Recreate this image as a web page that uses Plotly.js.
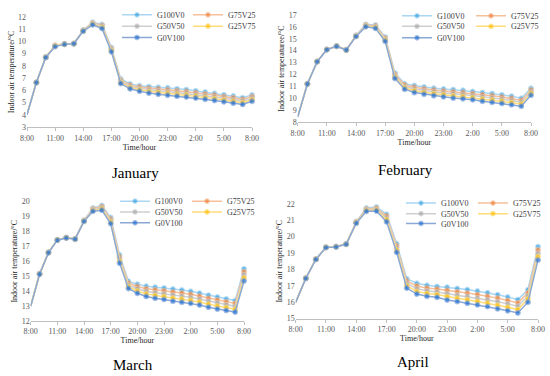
<!DOCTYPE html>
<html>
<head>
<meta charset="utf-8">
<script src="https://cdn.plot.ly/plotly-3.0.1.min.js"></script>
<style>html,body{margin:0;padding:0;background:#fff;}#chart{width:550px;height:376px;}</style>
</head>
<body>
<div id="chart"></div>
<script>
// Hours after 8:00 (0 = 8:00 day 1, 24 = 8:00 next day)
const hours = [0,1,2,3,4,5,6,7,8,9,10,11,12,13,14,15,16,17,18,19,20,21,22,23,24];
const tickPositions = [0,3,6,9,12,15,18,21,24];
const tickLabels = ['8:00','11:00','14:00','17:00','20:00','23:00','2:00','5:00','8:00'];
const seriesNames = ['G100V0','G75V25','G50V50','G25V75','G0V100'];
const monthNames = ['January','February','March','April'];

// January
const janG100V0 = [4.05,6.65,8.72,9.62,9.80,9.83,10.92,11.55,11.38,9.50,6.92,6.52,6.38,6.30,6.25,6.20,6.12,6.06,5.96,5.86,5.75,5.64,5.53,5.40,5.62];
const janG75V25 = [4.04,6.64,8.71,9.68,9.79,9.82,10.90,11.50,11.30,9.41,6.83,6.42,6.27,6.17,6.11,6.05,5.97,5.91,5.81,5.71,5.61,5.50,5.39,5.26,5.49];
const janG50V50 = [4.03,6.64,8.70,9.66,9.78,9.82,10.88,11.45,11.22,9.33,6.74,6.32,6.16,6.04,5.97,5.90,5.82,5.76,5.67,5.57,5.46,5.35,5.24,5.13,5.36];
const janG25V75 = [4.01,6.63,8.69,9.62,9.76,9.81,10.85,11.40,11.13,9.24,6.64,6.22,6.04,5.90,5.82,5.75,5.67,5.61,5.52,5.42,5.32,5.21,5.10,4.99,5.23];
const janG0V100 = [4.00,6.63,8.68,9.57,9.75,9.80,10.83,11.35,11.05,9.15,6.55,6.12,5.93,5.77,5.68,5.60,5.52,5.46,5.37,5.27,5.17,5.06,4.95,4.85,5.10];

// February
const febG100V0 = [8.45,11.22,13.09,14.10,14.38,14.07,15.28,16.20,16.15,15.14,12.13,11.22,11.08,10.95,10.85,10.78,10.73,10.67,10.57,10.48,10.40,10.29,10.18,10.00,10.84];
const febG75V25 = [8.45,11.21,13.09,14.10,14.38,14.07,15.26,16.15,16.08,15.05,12.01,11.11,10.93,10.80,10.69,10.62,10.55,10.49,10.40,10.30,10.22,10.11,10.00,9.83,10.70];
const febG50V50 = [8.44,11.21,13.08,14.09,14.37,14.06,15.24,16.11,16.01,14.96,11.90,10.99,10.78,10.65,10.54,10.45,10.38,10.32,10.23,10.12,10.03,9.93,9.82,9.67,10.55];
const febG25V75 = [8.44,11.20,13.08,14.09,14.37,14.06,15.21,16.06,15.94,14.87,11.78,10.88,10.63,10.49,10.38,10.29,10.20,10.14,10.05,9.93,9.85,9.75,9.64,9.50,10.41];
const febG0V100 = [8.43,11.20,13.07,14.08,14.36,14.05,15.19,16.01,15.87,14.78,11.66,10.76,10.48,10.34,10.22,10.12,10.02,9.96,9.88,9.75,9.66,9.57,9.46,9.33,10.26];

// March
const marG100V0 = [13.02,15.17,16.60,17.44,17.59,17.51,18.75,19.56,19.74,18.93,16.42,14.65,14.46,14.33,14.26,14.21,14.13,14.07,13.98,13.86,13.72,13.60,13.47,13.36,15.49];
const marG75V25 = [13.01,15.16,16.59,17.43,17.58,17.50,18.73,19.51,19.66,18.83,16.28,14.53,14.31,14.16,14.08,14.02,13.93,13.87,13.78,13.66,13.52,13.40,13.28,13.17,15.29];
const marG50V50 = [13.00,15.15,16.59,17.43,17.58,17.50,18.71,19.46,19.58,18.73,16.15,14.41,14.16,13.99,13.89,13.83,13.73,13.66,13.58,13.47,13.32,13.20,13.09,12.98,15.09];
const marG25V75 = [12.99,15.14,16.58,17.42,17.57,17.49,18.69,19.40,19.50,18.62,16.01,14.29,14.00,13.81,13.71,13.63,13.52,13.46,13.38,13.27,13.12,12.99,12.89,12.78,14.88];
const marG0V100 = [12.98,15.13,16.57,17.41,17.56,17.48,18.67,19.35,19.42,18.52,15.87,14.17,13.85,13.64,13.52,13.44,13.32,13.25,13.18,13.07,12.92,12.79,12.70,12.59,14.68];

// April
const aprG100V0 = [16.02,17.47,18.63,19.36,19.40,19.56,20.92,21.74,21.80,21.36,19.57,17.43,17.15,17.03,16.96,16.92,16.84,16.77,16.68,16.58,16.46,16.32,16.16,16.76,19.39];
const aprG75V25 = [16.01,17.47,18.63,19.35,19.39,19.55,20.90,21.69,21.74,21.25,19.44,17.29,16.99,16.86,16.80,16.73,16.64,16.56,16.47,16.37,16.25,16.11,15.96,16.57,19.19];
const aprG50V50 = [16.00,17.46,18.62,19.35,19.39,19.55,20.87,21.64,21.68,21.13,19.31,17.15,16.83,16.70,16.63,16.53,16.44,16.36,16.26,16.16,16.03,15.90,15.76,16.38,18.98];
const aprG25V75 = [15.99,17.46,18.62,19.34,19.38,19.54,20.85,21.59,21.62,21.02,19.17,17.00,16.66,16.53,16.47,16.34,16.24,16.15,16.05,15.95,15.82,15.69,15.55,16.19,18.78];
const aprG0V100 = [15.98,17.45,18.61,19.33,19.37,19.53,20.82,21.54,21.56,20.90,19.04,16.86,16.50,16.36,16.30,16.14,16.04,15.94,15.84,15.74,15.60,15.48,15.35,16.00,18.57];

const monthData = [
  [janG100V0, janG75V25, janG50V50, janG25V75, janG0V100],
  [febG100V0, febG75V25, febG50V50, febG25V75, febG0V100],
  [marG100V0, marG75V25, marG50V50, marG25V75, marG0V100],
  [aprG100V0, aprG75V25, aprG50V50, aprG25V75, aprG0V100]
];

// Styles
const lineColors = ['#a9d6f3','#f5bf9a','#cfcfcf','#ffdc7a','#8aa8d6'];
const markerColors = ['#35a2e3','#f07f35','#a8a8a8','#ffc000','#1f6fd6'];
const yRanges = [[3,12],[8,17],[12,20],[15,22]];
const yTitles = ['Indoor air temperature/°C','Indoor air temperaturee/°C','Indoor air temperature/°C','Indoor air temperature/°C'];
// plot areas in pixels: [left, right, top, bottom]
const boxes = [[27,252,11,123],[297.7,531,9,118],[30.7,244,198.7,320],[295.7,538,201,317.7]];
// legend text start x and row centers y (pixels), per panel
const legCols = [[157,228],[437,511],[155,227],[441,513]];
const legRows = [[9,20.5,32],[10,20.7,32.3],[198.3,209.3,220.3],[200.3,211,221]];
const monthPos = [[135,170],[405,167],[133,365],[413,362]];

const W = 550, H = 376;
const serif = 'Liberation Serif, Times New Roman, serif';
const traces = [];
const layout = {
  width: W, height: H,
  margin: {l:0, r:0, t:0, b:0},
  paper_bgcolor: '#ffffff', plot_bgcolor: 'rgba(0,0,0,0)',
  font: {family: serif, size: 8, color: '#595959'},
  showlegend: true,
  annotations: []
};

const markerSizes = hours.map((h, i) => i === 0 ? 0 : 5);
let legIdx = 0;
for (let m = 0; m < 4; m++) {
  const ax = m === 0 ? '' : String(m + 1);
  const b = boxes[m];
  layout['xaxis' + ax] = {
    domain: [b[0] / W, b[1] / W], anchor: 'y' + ax,
    range: [0, 24], tickvals: tickPositions, ticktext: tickLabels,
    showline: true, linecolor: '#bfbfbf', linewidth: 1,
    ticks: 'outside', ticklen: 3, tickcolor: '#bfbfbf',
    showgrid: false, zeroline: false,
    tickfont: {family: serif, size: 8, color: '#595959'},
    title: {text: 'Time/hour', font: {family: serif, size: 8, color: '#262626'}, standoff: 1}
  };
  layout['yaxis' + ax] = {
    domain: [1 - b[3] / H, 1 - b[2] / H], anchor: 'x' + ax,
    range: yRanges[m], dtick: 1,
    showline: false, showgrid: false, zeroline: false, ticks: '',
    tickfont: {family: serif, size: 8, color: '#595959'},
    title: {text: yTitles[m], font: {family: serif, size: 8, color: '#262626'}, standoff: 2}
  };
  for (let s = 0; s < 5; s++) {
    legIdx++;
    const legName = legIdx === 1 ? 'legend' : 'legend' + legIdx;
    traces.push({
      type: 'scatter', mode: 'lines+markers',
      x: hours, y: monthData[m][s], name: seriesNames[s],
      xaxis: 'x' + ax, yaxis: 'y' + ax,
      line: {color: lineColors[s], width: 1.5},
      marker: {color: markerColors[s], size: markerSizes},
      cliponaxis: false,
      legend: legName, showlegend: true
    });
    const col = s % 2, row = Math.floor(s / 2);
    layout[legName] = {
      x: (legCols[m][col] - 40) / W, y: 1 - legRows[m][row] / H,
      xanchor: 'left', yanchor: 'middle',
      bgcolor: 'rgba(0,0,0,0)', borderwidth: 0,
      orientation: 'v', itemwidth: 30,
      font: {family: serif, size: 8, color: '#404040'}
    };
  }
  layout.annotations.push({
    text: monthNames[m], xref: 'paper', yref: 'paper',
    x: monthPos[m][0] / W, y: 1 - monthPos[m][1] / H,
    xanchor: 'center', yanchor: 'middle', showarrow: false,
    font: {family: serif, size: 15, color: '#000000'}
  });
}

Plotly.newPlot('chart', traces, layout, {staticPlot: true, displayModeBar: false});
</script>
</body>
</html>
